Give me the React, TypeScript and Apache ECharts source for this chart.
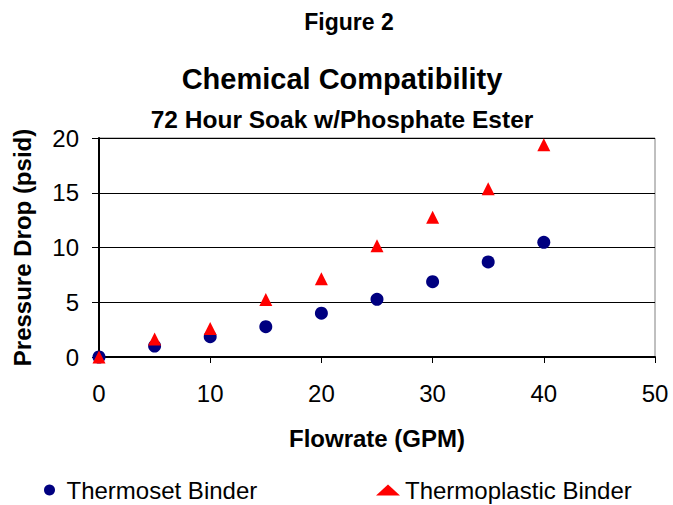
import React, { useEffect, useRef } from "react";
import * as echarts from "echarts";

const flowrate = [0, 5, 10, 15, 20, 25, 30, 35, 40];
const thermoset = [0, 1.0, 1.85, 2.77, 4.0, 5.27, 6.88, 8.68, 10.47];
const thermoplastic = [0, 1.64, 2.6, 5.24, 7.15, 10.17, 12.76, 15.37, 19.39];
const xTicks = [0, 10, 20, 30, 40, 50];
const yTicks = [0, 5, 10, 15, 20];

const FONT = "'Liberation Sans', Arial, sans-serif";

export default function App() {
  const ref = useRef<HTMLDivElement>(null);
  useEffect(() => {
    if (!ref.current) return;
    const chart = echarts.init(ref.current, null, { renderer: "svg" });
    const pts = (ys: number[]) => flowrate.map((x, i) => [x, ys[i]]);
    chart.setOption({
      animation: false,
      backgroundColor: "#fff",
      textStyle: { fontFamily: FONT },
      title: [
        { text: "Figure 2", left: 344, top: 5, textAlign: "center", textStyle: { fontFamily: FONT, fontSize: 23, fontWeight: "bold", color: "#000" } },
        { text: "Chemical Compatibility", left: 337, top: 59, textAlign: "center", textStyle: { fontFamily: FONT, fontSize: 29, fontWeight: "bold", color: "#000" } },
        { text: "72 Hour Soak w/Phosphate Ester", left: 337, top: 102, textAlign: "center", textStyle: { fontFamily: FONT, fontSize: 24.5, fontWeight: "bold", color: "#000" } },
      ],
      legend: [
        { data: [{ name: "Thermoset Binder", icon: "circle" }], left: 44, top: 478, padding: 0, itemWidth: 24, itemHeight: 11, itemGap: 0, textStyle: { fontFamily: FONT, fontSize: 24, color: "#000" } },
        { data: [{ name: "Thermoplastic Binder", icon: "triangle" }], left: 376, top: 478, padding: 0, itemWidth: 24, itemHeight: 11, itemGap: 0, textStyle: { fontFamily: FONT, fontSize: 24, color: "#000" } },
      ],
      grid: { left: 99, right: 18, top: 138, bottom: 148, outerBoundsMode: "none", containLabel: false, show: true, borderColor: "#808080", borderWidth: 1 },
      xAxis: {
        type: "value",
        min: xTicks[0],
        max: xTicks[xTicks.length - 1],
        interval: 10,
        name: "Flowrate (GPM)",
        nameLocation: "middle",
        nameGap: 69,
        nameTextStyle: { fontFamily: FONT, fontSize: 24, fontWeight: "bold", color: "#000" },
        axisLine: { lineStyle: { color: "#000", width: 2 } },
        axisTick: { show: true, length: 6, lineStyle: { color: "#000" } },
        axisLabel: { margin: 24, fontFamily: FONT, fontSize: 24, color: "#000" },
        splitLine: { show: false },
      },
      yAxis: {
        type: "value",
        min: yTicks[0],
        max: yTicks[yTicks.length - 1],
        interval: 5,
        name: "Pressure Drop (psid)",
        nameLocation: "middle",
        nameGap: 65,
        nameTextStyle: { fontFamily: FONT, fontSize: 24, fontWeight: "bold", color: "#000" },
        axisLine: { show: true, lineStyle: { color: "#000", width: 2 } },
        axisTick: { show: true, length: 7, lineStyle: { color: "#000" } },
        axisLabel: { margin: 20, fontFamily: FONT, fontSize: 24, color: "#000" },
        splitLine: { show: true, lineStyle: { color: "#000", width: 1 } },
      },
      series: [
        { name: "Thermoset Binder", type: "scatter", symbol: "circle", symbolSize: 13, itemStyle: { color: "#000080", opacity: 1 }, data: pts(thermoset) },
        { name: "Thermoplastic Binder", type: "scatter", symbol: "triangle", symbolSize: 13, itemStyle: { color: "#FF0000", opacity: 1 }, data: pts(thermoplastic) },
      ],
    });
    return () => chart.dispose();
  }, []);
  return <div ref={ref} style={{ width: 673, height: 505, position: "absolute", left: 0, top: 0 }} />;
}
